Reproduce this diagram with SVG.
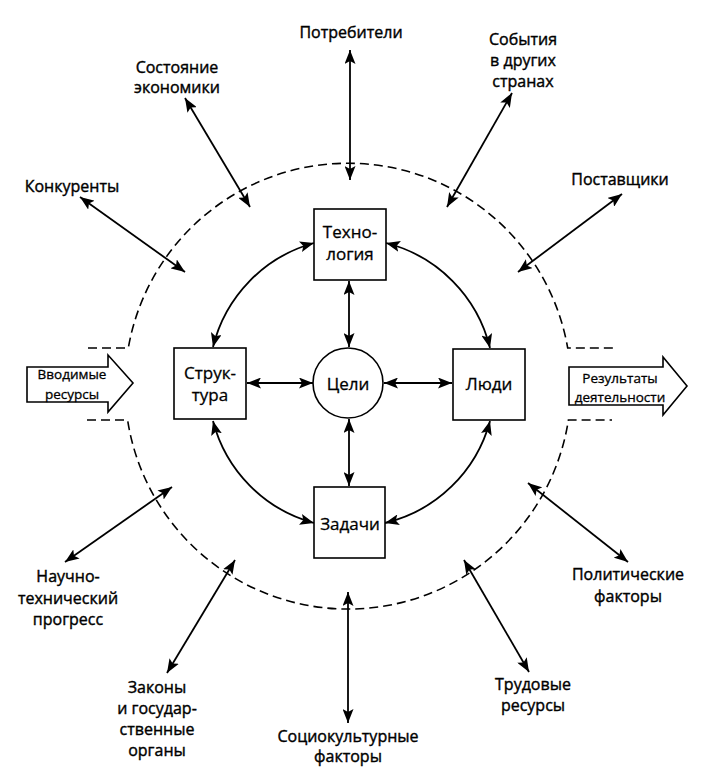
<svg xmlns="http://www.w3.org/2000/svg" width="716" height="782" viewBox="0 0 716 782">
<style>
  .bg{fill:#fff}
  .box{fill:#fff;stroke:#000;stroke-width:1.6}
  .t{font-family:"Open Sans","Liberation Sans",sans-serif;font-size:16px;fill:#000;stroke:#000;stroke-width:0.4;text-anchor:middle}
  .ti{font-family:"Open Sans","Liberation Sans",sans-serif;font-size:17px;fill:#000;stroke:#000;stroke-width:0.3;text-anchor:middle}
  .ts{font-family:"Open Sans","Liberation Sans",sans-serif;font-size:13.5px;fill:#000;stroke:#000;stroke-width:0.3;text-anchor:middle}
  .c{fill:none;stroke:#000;stroke-width:1.8;marker-start:url(#ah);marker-end:url(#ah)}
  .dash{fill:none;stroke:#000;stroke-width:1.6;stroke-dasharray:9 5}
  .blk{fill:#fff;stroke:#000;stroke-width:1.6;stroke-linejoin:miter}
</style>
<defs>
  <marker id="ah" viewBox="0 0 14 11" refX="14" refY="5.5" markerWidth="14" markerHeight="11" markerUnits="userSpaceOnUse" orient="auto-start-reverse">
    <path d="M0,0 L14,5.5 L0,11 L3,5.5 Z" fill="#000"/>
  </marker>
</defs>
<rect class="bg" x="0" y="0" width="716" height="782"/>

<g id="environment">
  <path class="dash" d="M88 348 H128.3 A223 223 0 0 1 567.7 348 H616"/>
  <path class="dash" d="M87 420 H127.6 A223 223 0 0 0 568.4 420 H612"/>
</g>

<g id="connectors">
  <path class="c" d="M314 243 A143 143 0 0 0 213 347"/>
  <path class="c" d="M386 243 A143 143 0 0 1 490 348"/>
  <path class="c" d="M213 421 A143 143 0 0 0 314 523"/>
  <path class="c" d="M490 421 A143 143 0 0 1 385 523"/>
  <path class="c" d="M349 281 V347"/>
  <path class="c" d="M349 419 V486"/>
  <path class="c" d="M247 383 H313"/>
  <path class="c" d="M384 383 H452"/>
  <path class="c" d="M350 50 V180"/>
  <path class="c" d="M185 98 L250 207"/>
  <path class="c" d="M80 197 L185 272"/>
  <path class="c" d="M512 93 L447 207"/>
  <path class="c" d="M622 194 L518 272"/>
  <path class="c" d="M172 487 L65 562"/>
  <path class="c" d="M235 560 L167 673"/>
  <path class="c" d="M348 592 V723"/>
  <path class="c" d="M464 560 L529 672"/>
  <path class="c" d="M528 483 L628 562"/>
</g>

<g id="tech">
  <rect class="box" x="314" y="209" width="72" height="71"/>
  <text class="ti" x="350" y="238">Техно-</text>
  <text class="ti" x="350" y="260">логия</text>
</g>
<g id="structure">
  <rect class="box" x="174" y="348" width="72" height="71"/>
  <text class="ti" x="210" y="379">Струк-</text>
  <text class="ti" x="210" y="401">тура</text>
</g>
<g id="people">
  <rect class="box" x="453" y="349" width="72" height="71"/>
  <text class="ti" x="489" y="390">Люди</text>
</g>
<g id="tasks">
  <rect class="box" x="314" y="487" width="71" height="71"/>
  <text class="ti" x="350" y="530">Задачи</text>
</g>
<g id="goals">
  <circle class="box" cx="348" cy="383" r="35"/>
  <text class="ti" x="348" y="390">Цели</text>
</g>

<g id="input">
  <path class="blk" d="M27 367 H108 V355 L133 383 L108 412 V402 H27 Z"/>
  <text class="ts" x="72" y="379">Вводимые</text>
  <text class="ts" x="72" y="399">ресурсы</text>
</g>
<g id="output">
  <path class="blk" d="M569 367 H663 V357 L687 386 L663 415 V405 H569 Z"/>
  <text class="ts" x="620" y="383">Результаты</text>
  <text class="ts" x="620" y="402">деятельности</text>
</g>

<g id="consumers"><text class="t" x="351" y="38">Потребители</text></g>
<g id="economy">
  <text class="t" x="177" y="73">Состояние</text>
  <text class="t" x="177" y="93">экономики</text>
</g>
<g id="competitors"><text class="t" x="72" y="192">Конкуренты</text></g>
<g id="foreign">
  <text class="t" x="523" y="45">События</text>
  <text class="t" x="523" y="66">в других</text>
  <text class="t" x="523" y="87">странах</text>
</g>
<g id="suppliers"><text class="t" x="620" y="185">Поставщики</text></g>
<g id="science">
  <text class="t" x="68" y="582">Научно-</text>
  <text class="t" x="68" y="604">технический</text>
  <text class="t" x="68" y="625">прогресс</text>
</g>
<g id="laws">
  <text class="t" x="157" y="693">Законы</text>
  <text class="t" x="157" y="714">и государ-</text>
  <text class="t" x="157" y="735">ственные</text>
  <text class="t" x="157" y="756">органы</text>
</g>
<g id="sociocultural">
  <text class="t" x="348" y="742">Социокультурные</text>
  <text class="t" x="348" y="762">факторы</text>
</g>
<g id="labour">
  <text class="t" x="533" y="690">Трудовые</text>
  <text class="t" x="533" y="711">ресурсы</text>
</g>
<g id="political">
  <text class="t" x="628" y="580">Политические</text>
  <text class="t" x="628" y="602">факторы</text>
</g>
</svg>
